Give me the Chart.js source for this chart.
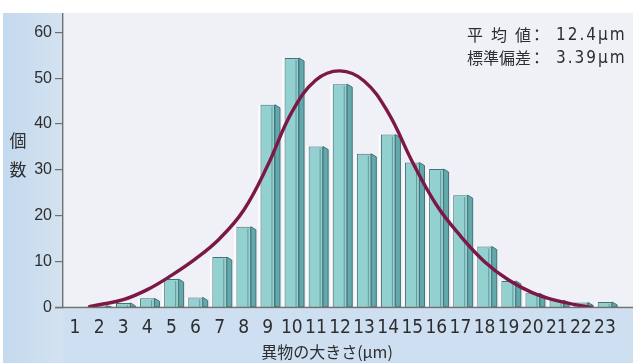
<!DOCTYPE html>
<html>
<head>
<meta charset="utf-8">
<script src="https://cdn.jsdelivr.net/npm/chart.js@4/dist/chart.umd.min.js"></script>
<style>
  html, body { margin: 0; padding: 0; background: #ffffff; }
  #wrap { width: 633px; height: 363px; position: relative; }
  canvas { display: block; }
</style>
</head>
<body>
<div id="wrap"><canvas id="c" width="633" height="363"></canvas></div>
<script>
// Particle size classes (µm) and counts per class
const sizeLabels = ['1','2','3','4','5','6','7','8','9','10','11','12','13','14','15','16','17','18','19','20','21','22','23'];
const sizeValues = [1,2,3,4,5,6,7,8,9,10,11,12,13,14,15,16,17,18,19,20,21,22,23];
const counts = [0, 0.4, 1, 2, 6.2, 2.2, 11, 17.6, 44.2, 54.4, 35.1, 48.7, 33.5, 37.7, 31.6, 30.2, 24.5, 13.3, 5.8, 3.1, 1.6, 1.1, 1.2];

// Fitted distribution curve (position, count)
const curveX = [1.6, 2, 3, 4, 5, 6, 7, 8, 9, 10, 11, 12, 13, 14, 15, 16, 17, 18, 19, 20, 21, 22, 22.45];
const curveY = [0.2, 0.6, 1.7, 3.9, 7.0, 10.6, 15.0, 21.2, 31.0, 42.6, 49.6, 51.6, 49.4, 42.5, 31.8, 22.4, 15.6, 10.0, 6.0, 3.2, 1.5, 0.4, 0];

// Y axis ticks
const yTicks = [0, 10, 20, 30, 40, 50, 60];

// Texts
const yTitleChars = ['個', '数'];
const xTitle = '異物の大きさ(μm)';
const statLabels = [['平', '均', '値'], ['標', '準', '偏', '差']];
const statValues = ['12.4μm', '3.39μm'];

const CJK = "'Noto Sans CJK JP', 'Noto Sans CJK SC', sans-serif";
const TEXT = '#2e2e2e';

const backdrop = {
  id: 'backdrop',
  beforeDraw(chart) {
    const { ctx, chartArea: a, width, height } = chart;
    ctx.save();
    ctx.fillStyle = '#ffffff';
    ctx.fillRect(0, 0, width, height);
    // outer blue panel
    const g = ctx.createLinearGradient(0, 0, a.left, 0);
    g.addColorStop(0, '#c3d9ee');
    g.addColorStop(1, '#d3e2f0');
    ctx.fillStyle = g;
    ctx.fillRect(3, 13, width - 3, height - 13);
    ctx.fillStyle = '#cddff0';
    ctx.fillRect(a.left, a.bottom + 1, width - a.left, height - a.bottom);
    // plot panel
    ctx.fillStyle = '#eff1f6';
    ctx.fillRect(a.left, 13, width - a.left, a.bottom - 13 + 1);
    ctx.restore();
  },
  afterDatasetDraw(chart, args) {
    const meta = args.meta;
    if (meta.type !== 'bar') return;
    const ctx = chart.ctx;
    ctx.save();
    meta.data.forEach(el => {
      const p = el.getProps(['x', 'y', 'base', 'width'], true);
      const h = p.base - p.y;
      if (h < 1) return;
      const r = p.x + p.width / 2;
      const l = p.x - p.width / 2;
      const d = 5, s = Math.min(3, h);
      // white gap on left side
      ctx.strokeStyle = 'rgba(255,255,255,0.9)';
      ctx.lineWidth = 1.5;
      ctx.beginPath();
      ctx.moveTo(l - 1.5, p.base);
      ctx.lineTo(l - 1.5, p.y);
      ctx.stroke();
      // side face
      ctx.beginPath();
      ctx.moveTo(r, p.y);
      ctx.lineTo(r + d, p.y + s);
      ctx.lineTo(r + d, p.base);
      ctx.lineTo(r, p.base);
      ctx.closePath();
      ctx.fillStyle = '#62a9ab';
      ctx.fill();
      ctx.strokeStyle = '#44727a';
      ctx.lineWidth = 1;
      ctx.stroke();
      // inner line on front face
      ctx.strokeStyle = 'rgba(60,112,118,0.55)';
      ctx.beginPath();
      ctx.moveTo(r - 3, p.y + 2);
      ctx.lineTo(r - 3, p.base);
      ctx.stroke();
    });
    ctx.restore();
  },
  afterDraw(chart) {
    const { ctx, chartArea: a, width } = chart;
    ctx.save();
    // x axis line
    ctx.strokeStyle = '#707070';
    ctx.lineWidth = 1.3;
    ctx.beginPath();
    ctx.moveTo(55, a.bottom);
    ctx.lineTo(width, a.bottom);
    ctx.stroke();

    ctx.fillStyle = TEXT;
    ctx.textAlign = 'center';
    ctx.textBaseline = 'middle';
    // y title, stacked
    ctx.font = '17px ' + CJK;
    ctx.fillText(yTitleChars[0], 18, 141);
    ctx.fillText(yTitleChars[1], 18, 170);
    // x title
    ctx.font = '16px ' + CJK;
    ctx.fillText(xTitle, 327, 352);

    // statistics box
    ctx.font = '16px ' + CJK;
    ctx.textAlign = 'left';
    const x0 = 467;
    const wFull = ctx.measureText(statLabels[1].join('')).width;
    const rows = [35, 58];
    statLabels.forEach((chars, i) => {
      const y = rows[i];
      const cw = ctx.measureText(chars[0]).width;
      const step = chars.length > 1 ? (wFull - cw) / (chars.length - 1) : 0;
      chars.forEach((ch, k) => ctx.fillText(ch, x0 + k * step, y));
      ctx.fillText('：', x0 + wFull - 2, y);
      ctx.save();
      ctx.font = "17px 'Liberation Sans Narrow', 'DejaVu Sans Condensed', sans-serif";
      ctx.letterSpacing = '2px';
      ctx.fillText(statValues[i], 556, y + 1);
      ctx.restore();
    });
    ctx.restore();
  }
};

new Chart(document.getElementById('c'), {
  data: {
    datasets: [
      {
        type: 'line',
        data: curveX.map((x, i) => ({ x: x, y: curveY[i] })),
        borderColor: '#7c1846',
        borderWidth: 3.4,
        pointRadius: 0,
        tension: 0.4,
        borderCapStyle: 'round',
        fill: false,
        order: 1
      },
      {
        type: 'bar',
        data: sizeValues.map((x, i) => ({ x: x, y: counts[i] })),
        backgroundColor: '#93d1d0',
        borderColor: '#44727a',
        borderWidth: 1,
        barPercentage: 1,
        categoryPercentage: 0.6,
        order: 2
      }
    ]
  },
  options: {
    responsive: false,
    animation: false,
    layout: { padding: { top: 14, right: 16, left: 0, bottom: 0 } },
    plugins: { legend: { display: false }, tooltip: { enabled: false } },
    scales: {
      x: {
        type: 'linear',
        min: 0.5,
        max: 23.5,
        offset: false,
        afterFit: s => { s.height = 55.5; },
        afterBuildTicks: s => { s.ticks = sizeValues.map(v => ({ value: v })); },
        grid: { display: false, drawTicks: false },
        border: { display: false },
        ticks: {
          autoSkip: false,
          maxRotation: 0,
          padding: 9,
          color: TEXT,
          font: { family: "'Liberation Sans Narrow', 'DejaVu Sans Condensed', sans-serif", size: 19 },
          callback: (v, i) => sizeLabels[i]
        }
      },
      y: {
        min: 0,
        max: 64,
        afterFit: s => { s.width = 63; },
        afterBuildTicks: s => { s.ticks = yTicks.map(v => ({ value: v })); },
        grid: { drawOnChartArea: false, drawTicks: true, tickLength: 8, color: '#707070', lineWidth: 1.2 },
        border: { display: true, color: '#707070', width: 1.4 },
        ticks: {
          padding: 3,
          color: TEXT,
          font: { family: "'Liberation Sans', Arial, sans-serif", size: 16 },
          callback: v => String(v)
        }
      }
    }
  },
  plugins: [backdrop]
});
</script>
</body>
</html>
